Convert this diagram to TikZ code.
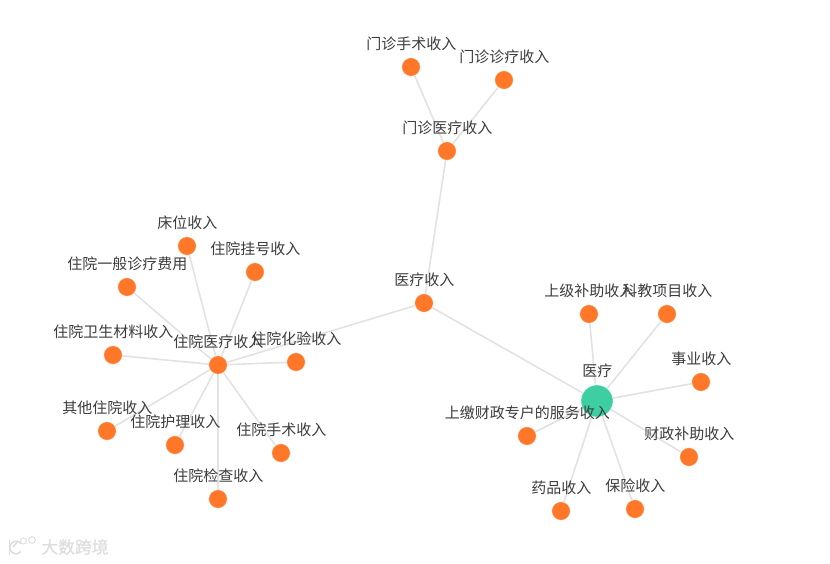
\documentclass[tikz,border=0pt]{standalone}
\usepackage{fontspec}
\setmainfont{Noto Sans CJK SC}
\newfontfamily\markfont[FakeBold=1.2]{Noto Sans CJK SC}
\usetikzlibrary{backgrounds}
\definecolor{orangeN}{HTML}{FF7829}
\definecolor{greenN}{HTML}{3DCEA2}
\definecolor{edgeC}{HTML}{E2E2E2}
\definecolor{labC}{HTML}{3C3C3C}
\definecolor{markC}{HTML}{DEDEDE}
\tikzset{
 lab/.style={font=\fontsize{15}{15}\selectfont,text=labC,inner sep=0pt,outer sep=0pt,text height=11pt,text depth=3pt,label distance=5.5pt,xshift=.4pt},
 leaf/.style={circle,fill=orangeN,draw=white,draw opacity=.6,line width=.6pt,minimum size=18.5pt,inner sep=0pt,outer sep=0pt,label={[lab]above:#1}},
 hub/.style={circle,fill=greenN,draw=white,draw opacity=.6,line width=.6pt,minimum size=32pt,inner sep=0pt,outer sep=0pt,label={[lab]above:#1}},
 link/.style={draw=edgeC,line width=1.6pt},
 markline/.style={draw=markC,line width=1.6pt}
}
\begin{document}
\begin{tikzpicture}[x=1pt,y=-1pt]
\useasboundingbox (0,0) rectangle (830,563);
\node[leaf={门诊手术收入}] (a1) at (411,67) {};
\node[leaf={门诊诊疗收入}] (a2) at (504,80) {};
\node[leaf={门诊医疗收入}] (a3) at (447,151) {};
\node[leaf={医疗收入}] (m) at (424,303) {};
\node[leaf={床位收入}] (b1) at (187,246) {};
\node[leaf={住院挂号收入}] (b2) at (255,272) {};
\node[leaf={住院一般诊疗费用}] (b3) at (127,287) {};
\node[leaf={住院卫生材料收入}] (b4) at (113,355) {};
\node[leaf={其他住院收入}] (b5) at (107,431) {};
\node[leaf={住院护理收入}] (b6) at (175,445) {};
\node[leaf={住院检查收入}] (b7) at (218,499) {};
\node[leaf={住院手术收入}] (b8) at (281,453) {};
\node[leaf={住院医疗收入}] (h) at (218,365) {};
\node[leaf={住院化验收入}] (b9) at (296,362) {};
\node[hub={医疗}] (r) at (597,401) {};
\node[leaf={上级补助收入}] (c1) at (589,314) {};
\node[leaf={科教项目收入}] (c2) at (667,314) {};
\node[leaf={事业收入}] (c3) at (701,382) {};
\node[leaf={财政补助收入}] (c4) at (689,457) {};
\node[leaf={保险收入}] (c5) at (635,509) {};
\node[leaf={药品收入}] (c6) at (561,511) {};
\node[leaf={上缴财政专户的服务收入}] (c7) at (527,436) {};
\begin{scope}[on background layer]
\foreach \p/\q in {a1/a3,a2/a3,a3/m,m/h,m/r,h/b1,h/b2,h/b3,h/b4,h/b5,h/b6,h/b7,h/b8,h/b9,r/c1,r/c2,r/c3,r/c4,r/c5,r/c6,r/c7}
  \draw[link] (\p) -- (\q);
\end{scope}
% watermark
\node[font=\markfont\fontsize{16.8}{17}\selectfont,text=markC,inner sep=0pt] (wm) at (75,547) {大数跨境};
\draw[markline] (9.5,539) -- (9.5,555);
\draw[markline] (21,543.5) arc (-40:-320:6.3);
\draw[markline] (13,547) -- (18,541);
\draw[markline,line width=1pt] (23.5,541) circle (3pt);
\draw[markline,line width=1pt] (32,540) circle (3.4pt);
\end{tikzpicture}
\end{document}
